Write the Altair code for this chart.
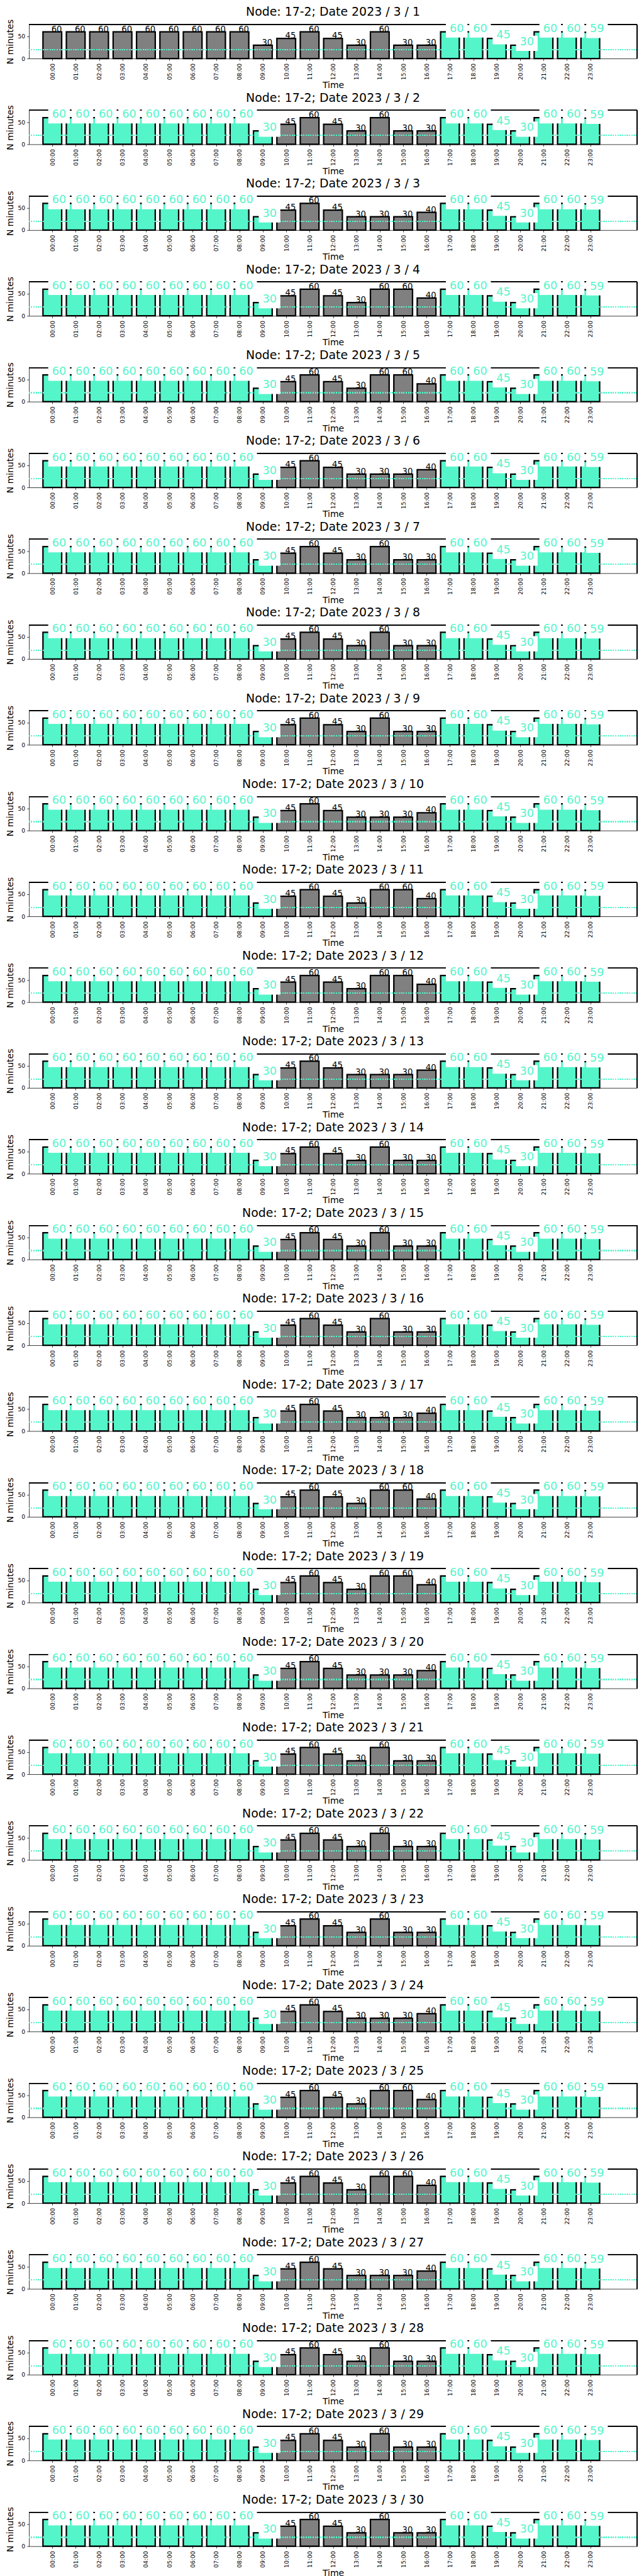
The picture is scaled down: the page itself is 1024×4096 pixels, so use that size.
import altair as alt
import pandas as pd
import json

# ---------------- data ----------------
days = list(range(1, 31))
hours = list(range(24))
time_labels = ["00:00", "01:00", "02:00", "03:00", "04:00", "05:00", "06:00", "07:00",
               "08:00", "09:00", "10:00", "11:00", "12:00", "13:00", "14:00", "15:00",
               "16:00", "17:00", "18:00", "19:00", "20:00", "21:00", "22:00", "23:00"]

# minutes per hour, split into the three parts of the day
morning_values = [60, 60, 60, 60, 60, 60, 60, 60, 60, 30]      # 00:00 - 09:00
midday_A = [45, 60, 45, 30, 30, 30, 40]                         # 10:00 - 16:00
midday_B = [45, 60, 45, 30, 60, 60, 40]
midday_C = [45, 60, 45, 30, 60, 30, 30]
evening_values = [60, 60, 45, 30, 60, 60, 59]                   # 17:00 - 23:00
midday_patterns = {"A": midday_A, "B": midday_B, "C": midday_C}
day_midday_pattern = ["C", "C", "A", "B", "B", "A", "C", "C", "C", "A",
                      "B", "B", "A", "C", "C", "C", "A", "B", "B", "A",
                      "C", "C", "C", "A", "B", "B", "A", "C", "C", "C"]
# hours drawn in gray (others in aquamarine)
first_gray_hour = [0] + [10] * 29
last_gray_hour = 16
threshold = 20
node = "17-2"

rows = []
for i, d in enumerate(days):
    vals = morning_values + midday_patterns[day_midday_pattern[i]] + evening_values
    for h in hours:
        kind = "gray" if first_gray_hour[i] <= h <= last_gray_hour else "aqua"
        rows.append({"day": d, "hour": h, "value": vals[h], "kind": kind})
df = pd.DataFrame(rows)

# ---------------- style ----------------
AQUA = "#55F5CA"
GRAY = "#808080"
FONT = "DejaVu Sans"
X_MIN, X_MAX = -1, 25
Y_MAX = 76.5
label_expr = json.dumps(time_labels) + "[datum.value]"


def panel(d):
    sub = df[df.day == d]
    base = alt.Chart(sub)
    xs = alt.Scale(domain=[X_MIN, X_MAX], nice=False, zero=False)
    ys = alt.Scale(domain=[0, Y_MAX], nice=False)

    bars = base.mark_rect(stroke="black", strokeWidth=2.25).encode(
        x=alt.X("x0:Q", scale=xs,
                axis=alt.Axis(values=hours, labelExpr=label_expr, title="Time", grid=False)),
        x2="x1:Q",
        y=alt.Y("value:Q", scale=ys, axis=alt.Axis(values=[0, 50], title="N minutes", grid=False)),
        y2=alt.datum(0),
        fill=alt.Fill("kind:N", scale=alt.Scale(domain=["gray", "aqua"], range=[GRAY, AQUA]), legend=None),
    ).transform_calculate(x0="datum.hour - 0.4", x1="datum.hour + 0.4")

    thr = base.mark_rule(color=AQUA, strokeWidth=1.4, strokeDash=[1.4, 2.3]).encode(
        y=alt.datum(threshold))
    top_spine = base.mark_rule(color="black", strokeWidth=0.75).encode(y=alt.datum(Y_MAX))
    right_spine = base.mark_rule(color="black", strokeWidth=0.75).encode(x=alt.datum(X_MAX))

    boxes = base.mark_rect(fill="white", xOffset=-6.5, x2Offset=27.8, yOffset=9.2, y2Offset=-15).encode(
        x="hour:Q", x2="hour:Q", y="value:Q", y2="value:Q"
    ).transform_filter(alt.datum.kind == "aqua")

    aqua_txt = base.mark_text(align="left", baseline="alphabetic", fontSize=17.7, font=FONT,
                              color=AQUA, dx=-0.5).encode(
        x="hour:Q", y="value:Q", text="value:Q"
    ).transform_filter(alt.datum.kind == "aqua")

    gray_txt = base.mark_text(align="left", baseline="alphabetic", fontSize=13.2, font=FONT,
                              color="black", dx=-1.5).encode(
        x="hour:Q", y="value:Q", text="value:Q"
    ).transform_filter(alt.datum.kind == "gray")

    return alt.layer(bars, thr, top_spine, right_spine, boxes, aqua_txt, gray_txt).properties(
        width=967, height=54,
        title=alt.TitleParams(text=f"Node: {node}; Date 2023 / 3 / {d}", fontSize=18.9, font=FONT,
                              fontWeight="normal", anchor="middle", frame="group", offset=-14,
                              baseline="alphabetic", color="black"),
    )


chart = alt.vconcat(*[panel(d) for d in days], spacing=82.4, bounds="flush").properties(
    padding={"left": 1, "top": 2, "right": 0, "bottom": 0}
).configure_view(strokeWidth=0).configure_axis(
    labelFont=FONT, titleFont=FONT, labelFontSize=9.2, titleFontSize=14, titleFontWeight="normal",
    domainColor="black", domainWidth=0.75, tickColor="black", tickWidth=0.75, tickSize=3.3,
    labelColor="black", titleColor="black", grid=False,
).configure_axisX(labelAngle=-90, labelPadding=4, titlePadding=2
).configure_axisY(labelPadding=3, titlePadding=5)

chart.save("out.html", embed_options={"renderer": "svg", "actions": False})
